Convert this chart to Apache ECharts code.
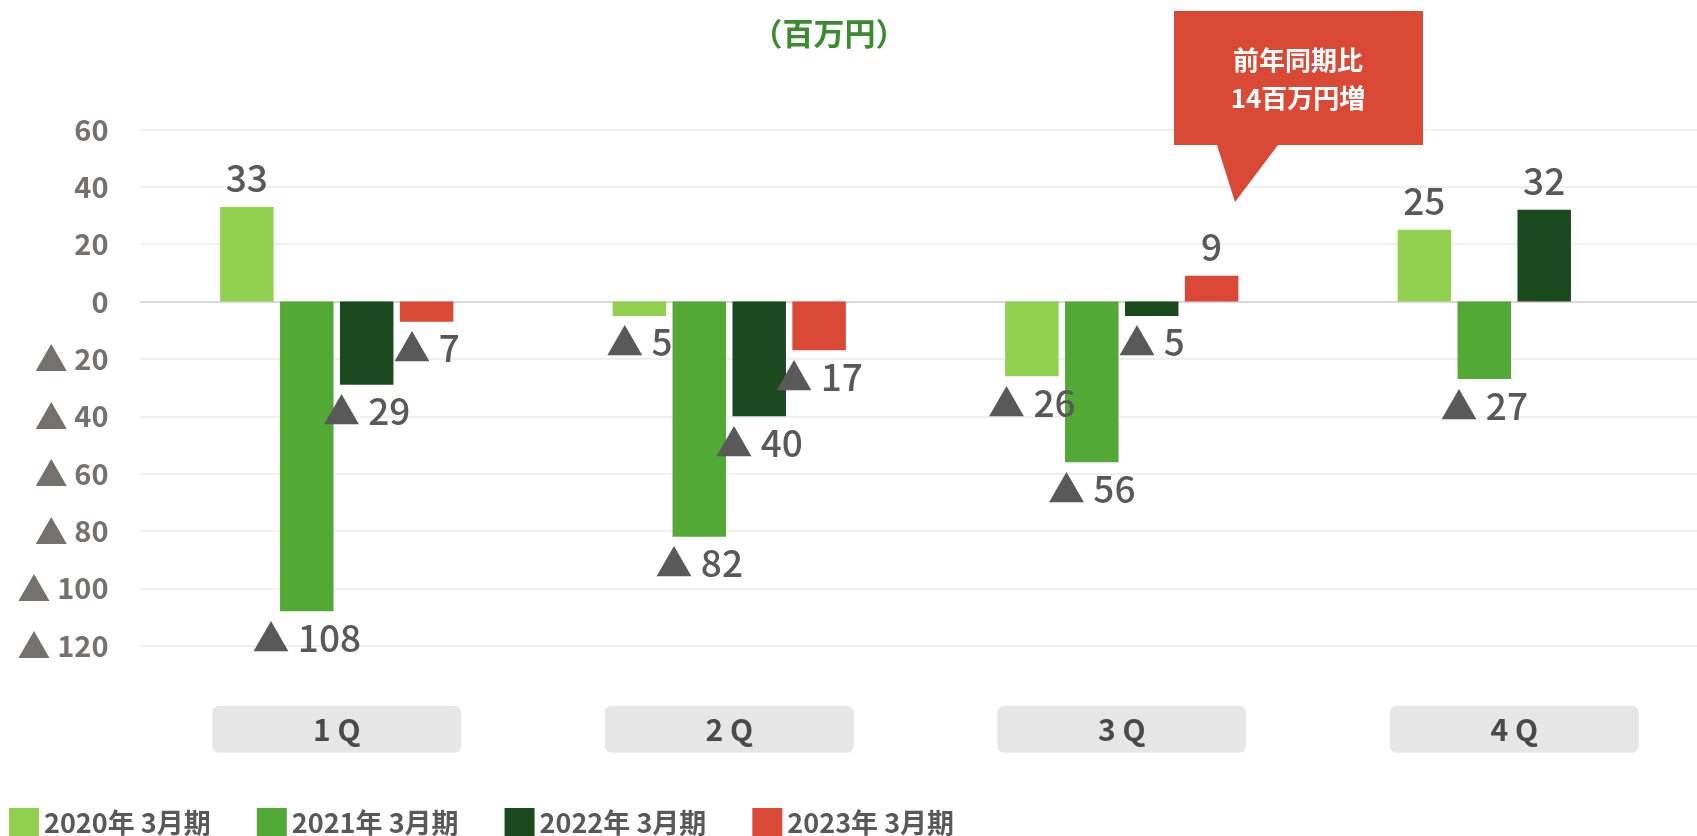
<!DOCTYPE html>
<html>
<head>
<meta charset="utf-8">
<script src="https://cdn.jsdelivr.net/npm/echarts@6/dist/echarts.min.js"></script>
<style>
html,body{margin:0;padding:0;background:#fff;}
#chart{width:1697px;height:836px;}
</style>
</head>
<body>
<div id="chart"></div>
<script>
const categories = ['1 Q', '2 Q', '3 Q', '4 Q'];
const seriesNames = ['2020年 3月期', '2021年 3月期', '2022年 3月期', '2023年 3月期'];
const values2020 = [33, -5, -26, 25];
const values2021 = [-108, -82, -56, -27];
const values2022 = [-29, -40, -5, 32];
const values2023 = [-7, -17, 9, null];
const unitLabel = '（百万円）';
const calloutLines = ['前年同期比', '14百万円増'];

const colors = ['#92D050', '#53A936', '#1C4A1F', '#DA4836'];
const FONT = '"Noto Sans CJK JP", "Noto Sans", sans-serif';
const allValues = [values2020, values2021, values2022, values2023];

function fmt(v) {
  if (v === null || v === undefined) return '';
  return v < 0 ? '▲ ' + (-v) : String(v);
}
function fmtAxis(v) {
  return v < 0 ? '{t|▲} ' + (-v) : String(v);
}

const series = allValues.map((vals, i) => ({
  name: seriesNames[i],
  type: 'bar',
  xAxisIndex: 0,
  barWidth: 53.5,
  barGap: '12%',
  itemStyle: { color: colors[i] },
  data: vals.map(v => ({
    value: v,
    label: {
      show: v !== null,
      position: v < 0 ? 'bottom' : 'top',
      distance: v < 0 ? 8 : 10,
      formatter: p => fmt(p.value),
      color: '#595959',
      fontSize: 37,
      fontWeight: 500,
      fontFamily: FONT
    }
  }))
}));

const chart = echarts.init(document.getElementById('chart'), null, { renderer: 'canvas' });
chart.setOption({
  animation: false,
  backgroundColor: '#fff',
  textStyle: { fontFamily: FONT },
  grid: { left: 140.5, top: 129.5, width: 1570, height: 516.2, containLabel: false, outerBoundsMode: 'none' },
  legend: {
    data: seriesNames,
    left: 9,
    top: 808,
    padding: 0,
    icon: 'rect',
    itemWidth: 30,
    itemHeight: 29,
    itemGap: 46,
    textStyle: { fontSize: 27, fontWeight: 'bold', color: '#595959', fontFamily: FONT }
  },
  xAxis: [
    {
      type: 'category',
      data: categories,
      position: 'bottom',
      axisLine: { show: false, onZero: false },
      axisTick: { show: false },
      splitLine: { show: false },
      axisLabel: {
        margin: 60,
        backgroundColor: '#E7E6E6',
        borderRadius: 7,
        width: 249,
        height: 47,
        lineHeight: 47,
        align: 'center',
        fontSize: 30,
        fontWeight: 'bold',
        color: '#4A4A4A',
        fontFamily: FONT
      }
    },
    {
      type: 'category',
      data: categories,
      position: 'bottom',
      axisLine: { show: true, onZero: true, lineStyle: { color: '#D9D9D9', width: 2 } },
      axisTick: { show: false },
      axisLabel: { show: false },
      splitLine: { show: false }
    }
  ],
  yAxis: {
    type: 'value',
    min: -120,
    max: 60,
    interval: 20,
    axisLine: { show: false },
    axisTick: { show: false },
    splitLine: { lineStyle: { color: '#EFEFEF', width: 2 } },
    axisLabel: {
      formatter: fmtAxis,
      margin: 32,
      fontSize: 29,
      fontWeight: 'bold',
      color: '#767171',
      fontFamily: FONT,
      rich: {
        t: { fontSize: 33, color: '#767171', fontFamily: FONT }
      }
    }
  },
  series: series,
  graphic: [
    {
      type: 'text',
      x: 829,
      y: 33,
      z: 100,
      style: {
        text: unitLabel,
        fill: '#3D8B2F',
        fontSize: 31,
        fontWeight: 'bold',
        fontFamily: FONT,
        align: 'center',
        verticalAlign: 'middle'
      }
    },
    {
      type: 'polygon',
      z: 100,
      shape: { points: [[1174, 11], [1423, 11], [1423, 145], [1278, 145], [1235, 202], [1217, 145], [1174, 145]] },
      style: { fill: '#DA4836' }
    },
    {
      type: 'text',
      x: 1298,
      y: 79,
      z: 101,
      style: {
        text: calloutLines.join('\n'),
        fill: '#fff',
        fontSize: 26,
        lineHeight: 38,
        fontWeight: 'bold',
        fontFamily: FONT,
        align: 'center',
        verticalAlign: 'middle'
      }
    }
  ]
});
</script>
</body>
</html>
